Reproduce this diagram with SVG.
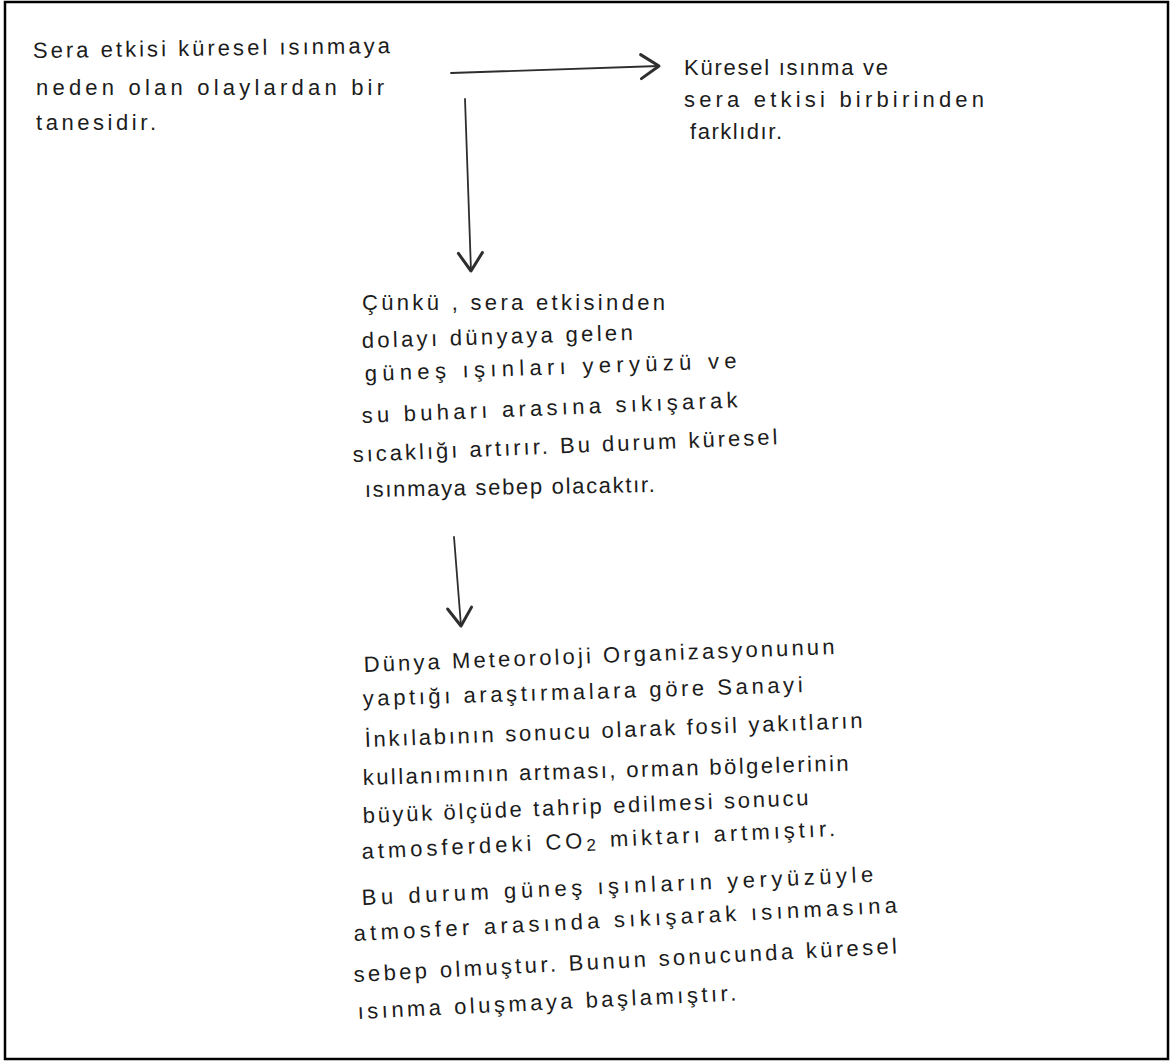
<svg xmlns="http://www.w3.org/2000/svg" width="1171" height="1062" viewBox="0 0 1171 1062">
<style>
.t{font-family:"Liberation Sans","DejaVu Sans",sans-serif;font-size:22px;fill:#1c1c1c;}
.c{fill:none;stroke:#2e2e2e;stroke-width:1.8;stroke-linecap:round;}
</style>
<defs>
<marker id="ah" markerUnits="userSpaceOnUse" markerWidth="30" markerHeight="30" refX="0" refY="0" viewBox="-16 -10 20 20" orient="auto" overflow="visible">
<path d="M -12 -8 L 0 0 L -12 8" fill="none" stroke="#2e2e2e" stroke-width="2" stroke-linecap="round" stroke-linejoin="round"/>
</marker>
</defs>
<rect x="0" y="0" width="1171" height="1062" fill="#ffffff"/>
<rect x="5" y="2" width="1163" height="1057" fill="none" stroke="#000" stroke-width="2.5"/>

<g id="connectors">
<path class="c" d="M 451 73 L 659 66" marker-end="url(#ah)"/>
<path class="c" d="M 465 99 L 471 271" marker-end="url(#ah)"/>
<path class="c" d="M 454 537 L 461 626" marker-end="url(#ah)"/>
</g>

<g id="n1">
<text class="t" x="33" y="58" textLength="357" lengthAdjust="spacing" transform="rotate(-0.8 33 58)">Sera etkisi küresel ısınmaya</text>
<text class="t" x="36" y="95" textLength="348" lengthAdjust="spacing">neden olan olaylardan bir</text>
<text class="t" x="36" y="130" textLength="120" lengthAdjust="spacing">tanesidir.</text>
</g>

<g id="n2">
<text class="t" x="684" y="75" textLength="204" lengthAdjust="spacing">Küresel ısınma ve</text>
<text class="t" x="684" y="107" textLength="300" lengthAdjust="spacing">sera etkisi birbirinden</text>
<text class="t" x="690" y="139" textLength="92" lengthAdjust="spacing">farklıdır.</text>
</g>

<g id="n3">
<text class="t" x="362" y="310" textLength="303" lengthAdjust="spacing">Çünkü , sera etkisinden</text>
<text class="t" x="362" y="348" textLength="271" lengthAdjust="spacing" transform="rotate(-1.7 362 348)">dolayı dünyaya gelen</text>
<text class="t" x="365" y="381" textLength="372" lengthAdjust="spacing" transform="rotate(-2 365 381)">güneş ışınları yeryüzü ve</text>
<text class="t" x="362" y="423" textLength="376" lengthAdjust="spacing" transform="rotate(-2.4 362 423)">su buharı arasına sıkışarak</text>
<text class="t" x="353" y="462" textLength="425" lengthAdjust="spacing" transform="rotate(-2.4 353 462)">sıcaklığı artırır. Bu durum küresel</text>
<text class="t" x="365" y="497" textLength="290" lengthAdjust="spacing" transform="rotate(-1 365 497)">ısınmaya sebep olacaktır.</text>
</g>

<g id="n4">
<text class="t" x="364" y="672" textLength="471" lengthAdjust="spacing" transform="rotate(-2.2 364 672)">Dünya Meteoroloji Organizasyonunun</text>
<text class="t" x="363" y="706" textLength="440" lengthAdjust="spacing" transform="rotate(-1.8 363 706)">yaptığı araştırmalara göre Sanayi</text>
<text class="t" x="365" y="747" textLength="498" lengthAdjust="spacing" transform="rotate(-2.2 365 747)">İnkılabının sonucu olarak fosil yakıtların</text>
<text class="t" x="363" y="785" textLength="486" lengthAdjust="spacing" transform="rotate(-1.7 363 785)">kullanımının artması, orman bölgelerinin</text>
<text class="t" x="363" y="823" textLength="446" lengthAdjust="spacing" transform="rotate(-2.3 363 823)">büyük ölçüde tahrip edilmesi sonucu</text>
<text class="t" x="362" y="859" textLength="474" lengthAdjust="spacing" transform="rotate(-2.8 362 859)">atmosferdeki CO<tspan dy="3" font-size="17">2</tspan><tspan dy="-3"> miktarı artmıştır.</tspan></text>
<text class="t" x="362" y="905" textLength="512" lengthAdjust="spacing" transform="rotate(-2.6 362 905)">Bu durum güneş ışınların yeryüzüyle</text>
<text class="t" x="354" y="941" textLength="544" lengthAdjust="spacing" transform="rotate(-3 354 941)">atmosfer arasında sıkışarak ısınmasına</text>
<text class="t" x="354" y="982" textLength="544" lengthAdjust="spacing" transform="rotate(-3 354 982)">sebep olmuştur. Bunun sonucunda küresel</text>
<text class="t" x="358" y="1019" textLength="379" lengthAdjust="spacing" transform="rotate(-2.8 358 1019)">ısınma oluşmaya başlamıştır.</text>
</g>
</svg>
